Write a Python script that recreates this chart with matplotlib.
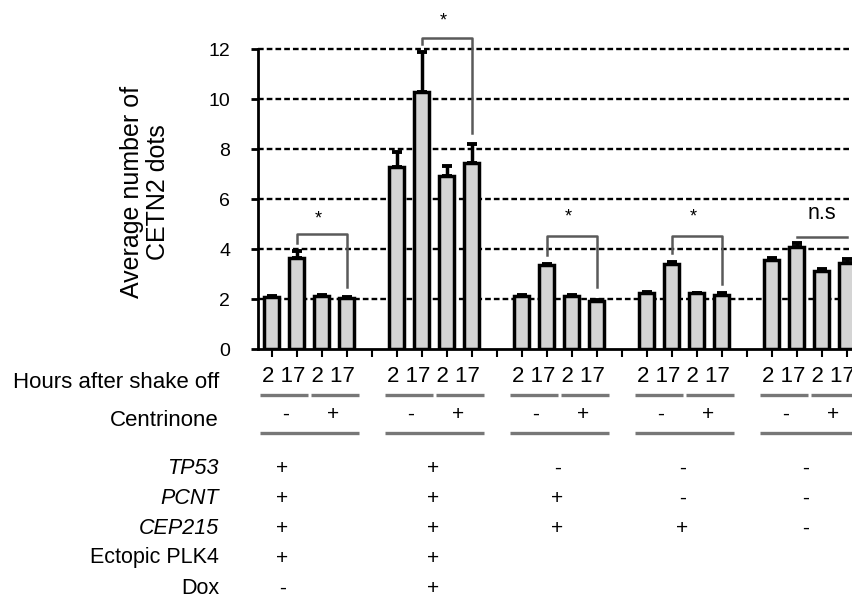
import matplotlib
matplotlib.use("Agg")
import matplotlib.pyplot as plt
from matplotlib.transforms import blended_transform_factory
import numpy as np

plt.rcParams['font.family'] = ['Liberation Sans', 'DejaVu Sans']

# ---------------- data ----------------
groups = ["G1", "G2", "G3", "G4", "G5"]
hours = ["2", "17", "2", "17"]
centrinone = ["-", "+"]
means = [
    [2.10, 3.63, 2.12, 2.05],
    [7.30, 10.30, 6.93, 7.43],
    [2.12, 3.36, 2.12, 1.92],
    [2.25, 3.39, 2.23, 2.17],
    [3.58, 4.09, 3.13, 3.43],
]
errors = [
    [0.04, 0.30, 0.03, 0.05],
    [0.58, 1.60, 0.39, 0.76],
    [0.03, 0.06, 0.05, 0.04],
    [0.03, 0.08, 0.03, 0.08],
    [0.07, 0.15, 0.08, 0.17],
]
# significance: (top, left leg end, right leg end, label, label y)
sig_top = [4.60, 12.43, 4.52, 4.52, 4.49]
sig_left_end = [4.24, 12.20, 3.76, 3.85, None]
sig_right_end = [2.50, 8.65, 2.49, 2.59, None]
sig_label = ["*", "*", "*", "*", "n.s"]
sig_label_y = [5.36, 13.28, 5.43, 5.43, 5.43]

row_names = ["TP53", "PCNT", "CEP215", "Ectopic PLK4", "Dox"]
row_italic = [True, True, True, False, False]
row_signs = [
    ["+", "+", "-", "-", "-"],
    ["+", "+", "+", "-", "-"],
    ["+", "+", "+", "+", "-"],
    ["+", "+", "", "", ""],
    ["-", "+", "", "", ""],
]
yticks = [0, 2, 4, 6, 8, 10, 12]

# ---------------- layout ----------------
W, H = 853, 599
fig = plt.figure(figsize=(W / 100, H / 100), dpi=100)
ax_left, ax_bottom, ax_top = 258, 349, 49
ax = fig.add_axes([ax_left / W, 1 - ax_bottom / H, 1 - ax_left / W, (ax_bottom - ax_top) / H])

slot0_px = 271.7
slot_px = 25.0
ax.set_xlim((ax_left - slot0_px) / slot_px, (W - slot0_px) / slot_px)
ax.set_ylim(0, 12)

ngroup = len(groups)
nbar = len(hours)
slots = []
for g in range(ngroup):
    for i in range(nbar):
        slots.append(g * (nbar + 1) + i)
slots = np.array(slots)
vals = np.array(means).ravel()
errs = np.array(errors).ravel()

# grid
for yv in yticks[1:]:
    ax.axhline(yv, color="black", lw=1.7, ls=(0, (2.4, 1.3)), zorder=0, clip_on=False)

ax.bar(slots, vals, width=0.6, color="#d4d4d4", edgecolor="black", linewidth=2.5, zorder=2)
ax.errorbar(slots, vals, yerr=[np.zeros_like(errs), errs], fmt="none", ecolor="black",
            elinewidth=2.5, capsize=3.3, capthick=2.8, zorder=1)

# spines/ticks
for s in ["top", "right"]:
    ax.spines[s].set_visible(False)
ax.spines["left"].set_linewidth(2.0)
ax.spines["bottom"].set_linewidth(2.0)
ax.set_yticks(yticks)
ax.set_yticklabels([str(v) for v in yticks], fontsize=14)
ax.tick_params(axis="y", direction="out", length=5, width=2, pad=15)
ax.set_xticks(np.arange(0, ngroup * (nbar + 1) - 1))
ax.set_xticklabels([])
ax.tick_params(axis="x", direction="out", length=6, width=1.5)

fig.text(145 / W, 1 - 192 / H, "Average number of\nCETN2 dots", rotation=90,
         ha="center", va="center", fontsize=18, linespacing=1.1)

# significance brackets
bc = "#5a5a5a"
for g in range(ngroup):
    xl = g * (nbar + 1) + 1
    xr = g * (nbar + 1) + 3
    top = sig_top[g]
    xs, ys = [xl, xr], [top, top]
    if sig_left_end[g] is not None:
        xs = [xl, xl, xr, xr]
        ys = [sig_left_end[g], top, top, sig_right_end[g]]
    ax.plot(xs, ys, color=bc, lw=1.8, clip_on=False, zorder=3)
    if sig_label[g] == "*":
        ax.text((xl + xr) / 2 - 0.12, sig_label_y[g] - 0.15, "*", ha="center", va="center",
                fontsize=13, clip_on=False)
    else:
        ax.text((xl + xr) / 2 + 0.0, sig_label_y[g], sig_label[g], ha="center", va="center",
                fontsize=15.5, clip_on=False)

# bottom annotation table
tr = blended_transform_factory(ax.transData, fig.transFigure)
def fy(py):
    return 1 - py / H

fig.text(219 / W, fy(382), "Hours after shake off", ha="right", va="center", fontsize=16)
fig.text(219 / W, fy(421), "Centrinone", ha="right", va="center", fontsize=16)
lc = "#777777"
for g in range(ngroup):
    base = g * (nbar + 1)
    ax.text(base + 1.45, fy(377), " ".join(hours), transform=tr, ha="center", va="center",
            fontsize=16)
    for k in range(2):
        x0 = base + 2 * k - 0.47 + (0.04 if k else 0)
        x1 = base + 2 * k + 1.45 + (0.04 if k else 0)
        ax.plot([x0, x1], [fy(395), fy(395)], transform=tr, color=lc, lw=2.4,
                clip_on=False, solid_capstyle="butt")
        ax.text(base + 2 * k + (0.45 if k else 0.55), fy(414),
                centrinone[k], transform=tr, ha="center", va="center", fontsize=15)
    ax.plot([base - 0.47, base + 3.49], [fy(433), fy(433)], transform=tr, color=lc, lw=2.4,
            clip_on=False, solid_capstyle="butt")

sign_x = [0.42, 6.45, 11.42, 16.42, 21.35]
row_y = [468, 498, 528, 558, 588]
for r, name in enumerate(row_names):
    fig.text(219 / W, fy(row_y[r]), name, ha="right", va="center", fontsize=15.5,
             style="italic" if row_italic[r] else "normal")
    for g in range(ngroup):
        s = row_signs[r][g]
        if s:
            ax.text(sign_x[g], fy(row_y[r]), s, transform=tr, ha="center", va="center",
                    fontsize=15)

fig.savefig("out.png", dpi=100)
